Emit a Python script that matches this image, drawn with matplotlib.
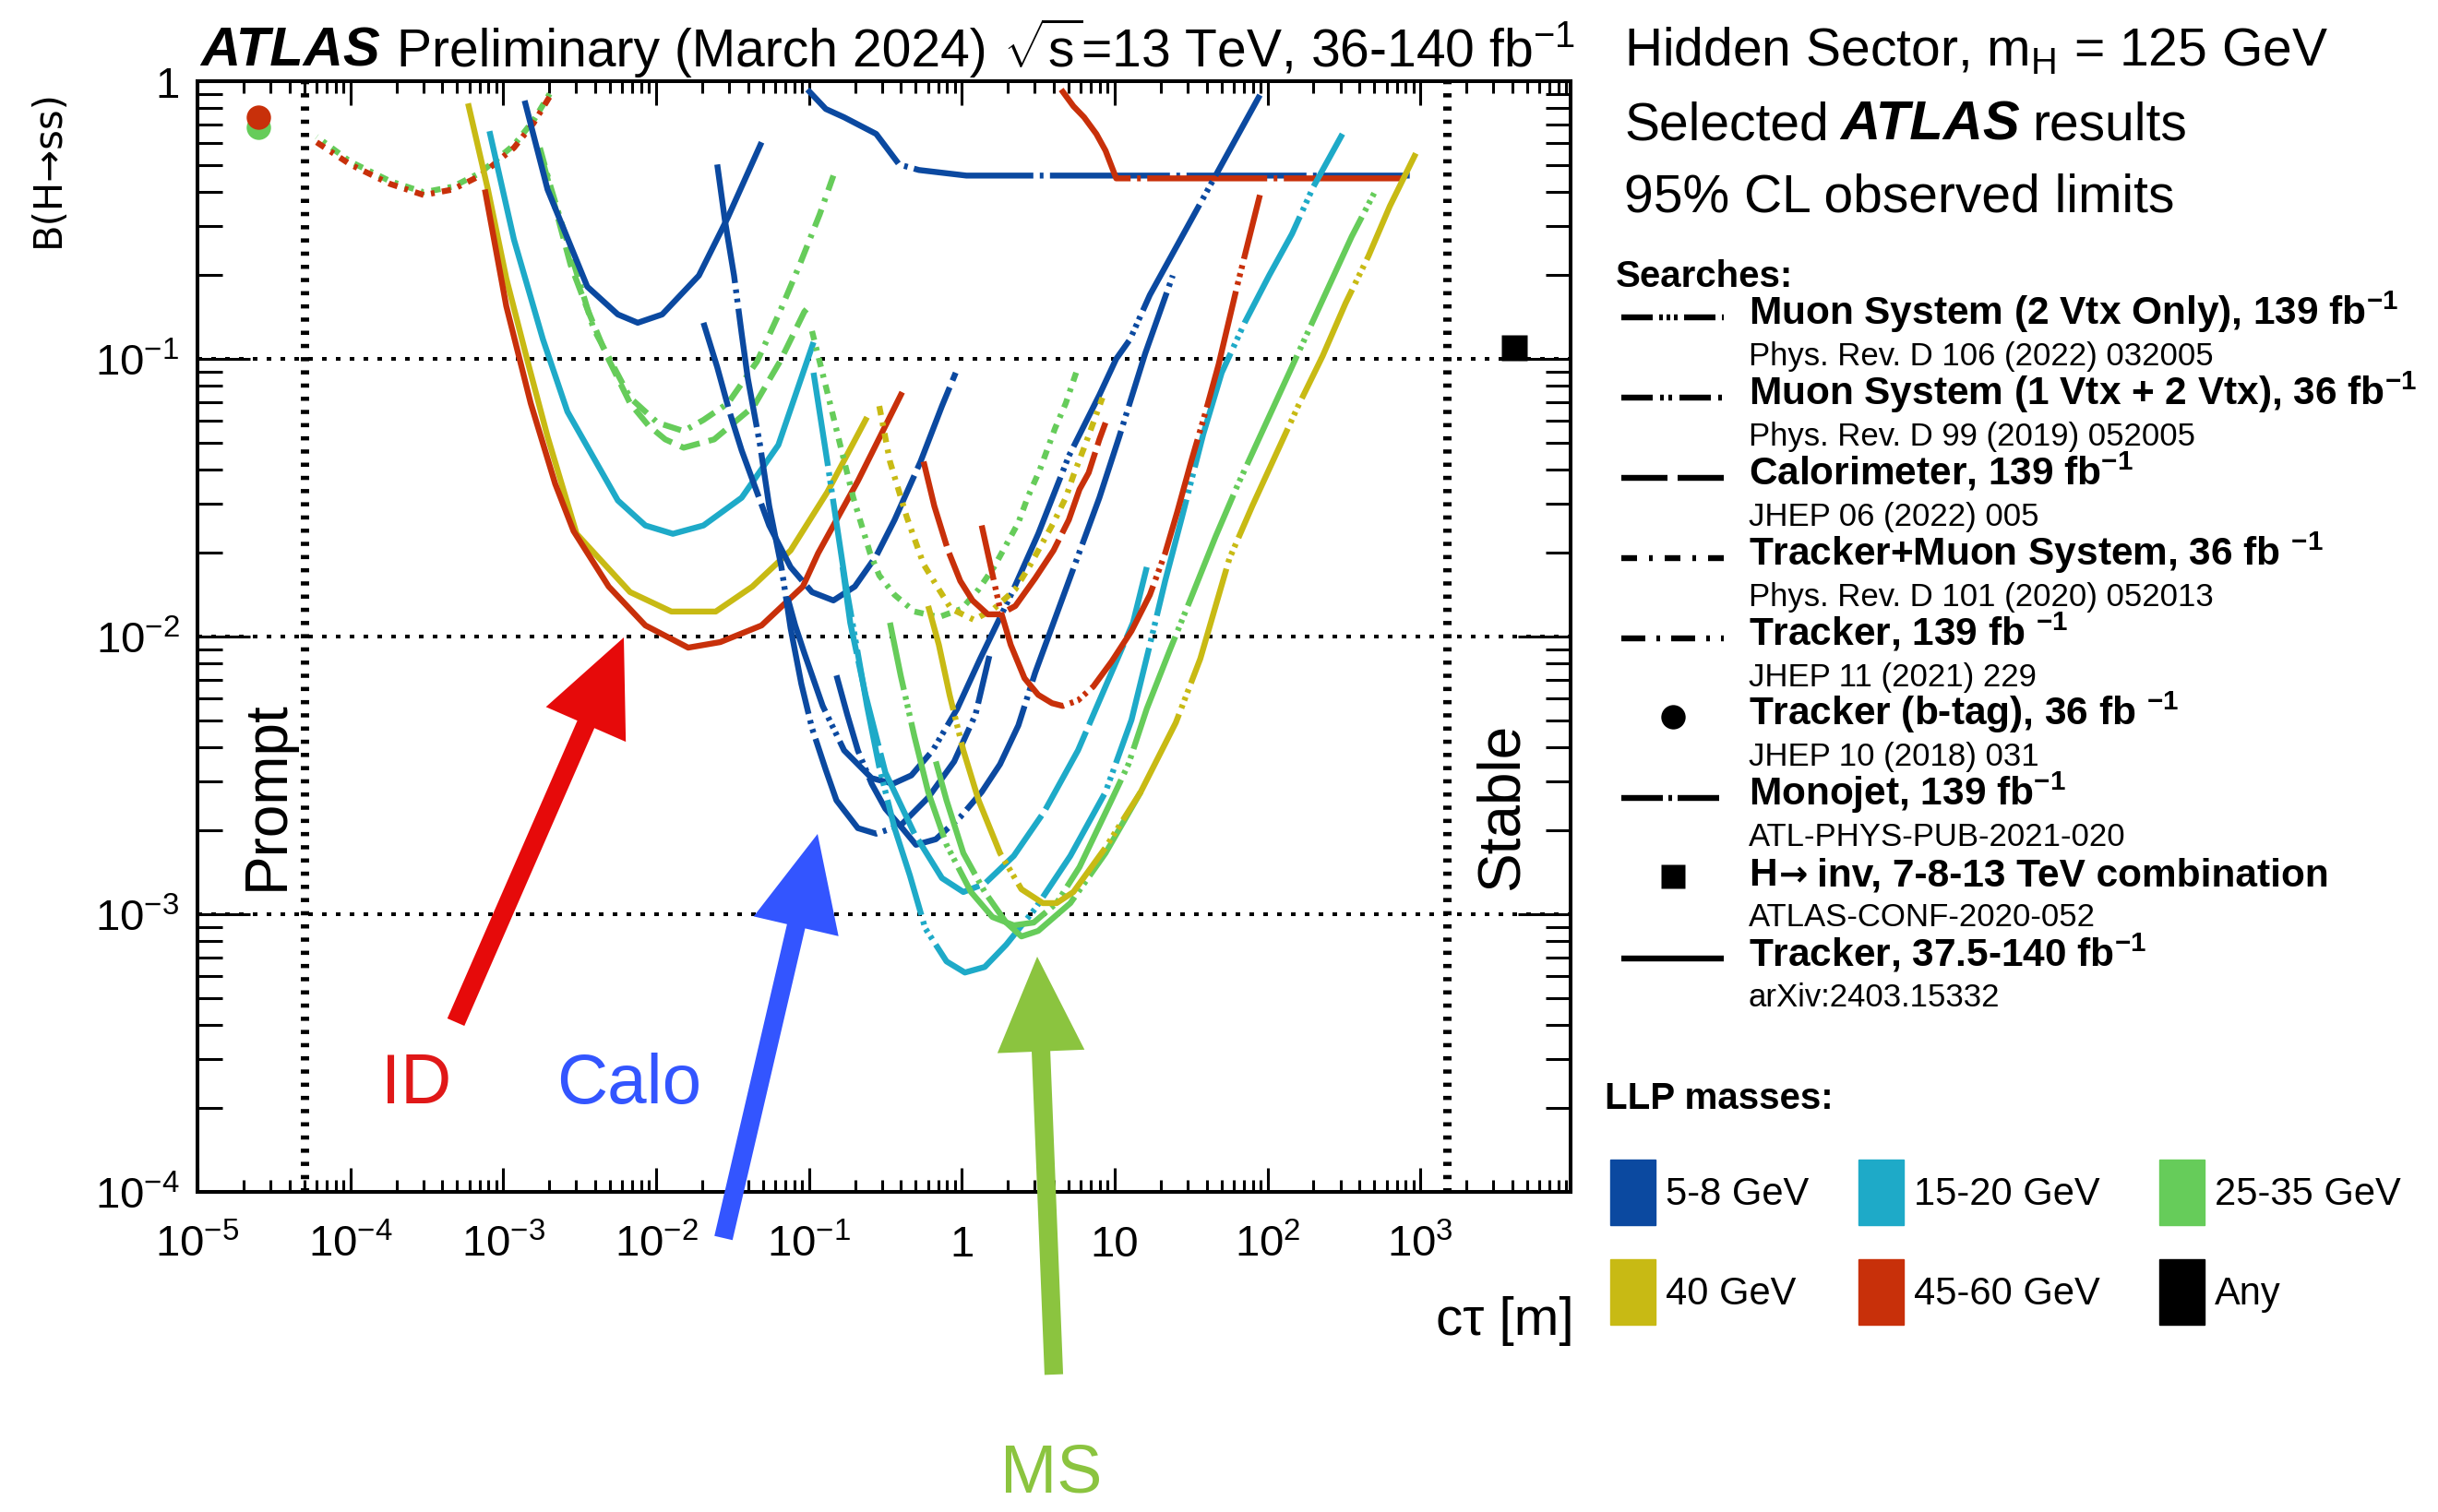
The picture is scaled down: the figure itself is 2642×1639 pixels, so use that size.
"""
ATLAS hidden-sector summary: B(H->ss) limits vs c*tau
"""
import numpy as np
import matplotlib
matplotlib.use("Agg")
import matplotlib.pyplot as plt
from matplotlib.patches import Rectangle
from matplotlib.ticker import FixedLocator, FixedFormatter, LogLocator, NullFormatter

plt.rcParams['font.family'] = ['Liberation Sans', 'DejaVu Sans']
plt.rcParams['mathtext.fontset'] = 'custom'
plt.rcParams['mathtext.rm'] = 'Liberation Sans'
plt.rcParams['mathtext.it'] = 'Liberation Sans:italic'
plt.rcParams['mathtext.bf'] = 'Liberation Sans:bold'
plt.rcParams['lines.scale_dashes'] = False

# ---------- colours ----------
C_58 = '#0B49A0'     # 5-8 GeV
C_1520 = '#1EAAC8'   # 15-20 GeV
C_2535 = '#66CC5A'   # 25-35 GeV
C_40 = '#C8BA14'     # 40 GeV
C_4560 = '#C8300A'   # 45-60 GeV

# ---------- data (log10 ctau[m], log10 B) ----------
# Tracker 37.5-140 fb-1 (solid)
trk_yellow_lx = [-3.23, -3.10, -2.98, -2.84, -2.71, -2.52, -2.17, -1.90, -1.74, -1.61, -1.37, -1.12, -0.88, -0.62]
trk_yellow_ly = [-0.08, -0.39, -0.71, -1.01, -1.28, -1.63, -1.84, -1.91, -1.91, -1.91, -1.82, -1.69, -1.48, -1.21]
trk_red_lx = [-3.12, -2.98, -2.82, -2.66, -2.54, -2.31, -2.07, -1.79, -1.58, -1.31, -1.04, -0.94, -0.68, -0.39]
trk_red_ly = [-0.39, -0.81, -1.16, -1.45, -1.62, -1.82, -1.96, -2.04, -2.02, -1.96, -1.82, -1.70, -1.44, -1.12]
trk_cyan_lx = [-3.09, -2.93, -2.74, -2.58, -2.25, -2.07, -1.89, -1.69, -1.44, -1.20, -0.97]
trk_cyan_ly = [-0.18, -0.57, -0.93, -1.19, -1.51, -1.60, -1.63, -1.60, -1.50, -1.31, -0.94]
trk_blue_lx = [-2.86, -2.71, -2.45, -2.25, -2.12, -1.96, -1.72, -1.53, -1.31]
trk_blue_ly = [-0.07, -0.39, -0.74, -0.84, -0.87, -0.84, -0.70, -0.49, -0.22]

# Tracker+Muon System 36 fb-1, short-lifetime part
trkms_prompt_lx = [-4.22, -4.00, -3.74, -3.52, -3.33, -3.15, -2.93, -2.80, -2.69]
trkms_prompt_red_ly = [-0.22, -0.30, -0.37, -0.41, -0.39, -0.34, -0.24, -0.15, -0.05]
trkms_prompt_green_ly = [-0.20, -0.29, -0.36, -0.40, -0.38, -0.33, -0.23, -0.14, -0.04]
# Tracker+Muon System 36 fb-1, long-lifetime part
trkms_green_lx = [-0.98, -0.88, -0.80, -0.71, -0.60, -0.54, -0.44, -0.31, -0.15, 0.00, 0.11, 0.21, 0.29, 0.37, 0.43, 0.51, 0.61, 0.68, 0.76]
trkms_green_ly = [-0.90, -1.12, -1.30, -1.50, -1.70, -1.78, -1.85, -1.91, -1.93, -1.90, -1.83, -1.75, -1.67, -1.59, -1.50, -1.40, -1.25, -1.16, -1.03]
trkms_yellow_lx = [-0.54, -0.47, -0.36, -0.25, -0.15, -0.07, 0.08, 0.21, 0.35, 0.45, 0.53, 0.60, 0.68, 0.73, 0.80, 0.86, 0.92]
trkms_yellow_ly = [-1.17, -1.37, -1.57, -1.74, -1.83, -1.90, -1.94, -1.90, -1.83, -1.74, -1.66, -1.59, -1.50, -1.42, -1.32, -1.23, -1.14]

# Tracker 139 fb-1
trk139_green_lx = [-2.76, -2.69, -2.41, -2.17, -1.99, -1.82, -1.69, -1.53, -1.34, -1.19, -1.06, -0.93, -0.84]
trk139_green_ly = [-0.24, -0.38, -0.89, -1.14, -1.23, -1.26, -1.22, -1.16, -1.01, -0.83, -0.66, -0.48, -0.34]

# Calorimeter 139 fb-1
calo_green_lx = [-2.74, -2.56, -2.45, -2.33, -2.17, -2.05, -1.94, -1.82, -1.62, -1.36, -1.19, -1.03, -0.98]
calo_green_ly = [-0.29, -0.66, -0.82, -0.98, -1.16, -1.24, -1.29, -1.32, -1.29, -1.17, -1.01, -0.83, -0.80]
calo_blue_lx = [-1.69, -1.60, -1.52, -1.44, -1.36, -1.26, -1.12, -0.98, -0.84, -0.70, -0.56, -0.44, -0.27, -0.13, -0.04]
calo_blue_ly = [-0.87, -1.03, -1.19, -1.33, -1.45, -1.60, -1.75, -1.84, -1.87, -1.82, -1.71, -1.58, -1.37, -1.17, -1.05]
calo_cyan_lx = [-0.78, -0.73, -0.63, -0.50, -0.31, -0.13, 0.01, 0.15, 0.34, 0.54, 0.76, 0.94, 1.12, 1.21]
calo_cyan_ly = [-1.75, -1.95, -2.21, -2.49, -2.71, -2.87, -2.92, -2.89, -2.79, -2.63, -2.41, -2.18, -1.95, -1.75]
calo_red_lx = [-0.25, -0.18, -0.09, -0.01, 0.07, 0.17, 0.25, 0.35, 0.48, 0.60, 0.70, 0.77, 0.83, 0.90, 0.94]
calo_red_ly = [-1.37, -1.53, -1.69, -1.80, -1.87, -1.92, -1.92, -1.89, -1.79, -1.69, -1.58, -1.47, -1.41, -1.29, -1.23]

# Muon System (1 Vtx + 2 Vtx) 36 fb-1
ms12_blue_a_lx = [-1.60, -1.55, -1.49, -1.44, -1.40, -1.32, -1.26, -1.18, -1.12, -1.05, -0.98, -0.89, -0.82, -0.68, -0.56, -0.40, -0.22, -0.05, 0.09, 0.18]
ms12_blue_a_ly = [-0.30, -0.50, -0.70, -0.91, -1.07, -1.31, -1.53, -1.75, -1.97, -2.17, -2.33, -2.48, -2.59, -2.69, -2.71, -2.68, -2.58, -2.45, -2.28, -2.07]
ms12_blue_b_lx = [-0.82, -0.75, -0.68, -0.59, -0.50, -0.39, -0.30, -0.17, -0.01, 0.13, 0.25, 0.37, 0.48, 0.68, 0.90, 1.03, 1.20, 1.38]
ms12_blue_b_ly = [-2.14, -2.28, -2.41, -2.53, -2.62, -2.69, -2.75, -2.73, -2.65, -2.56, -2.46, -2.32, -2.13, -1.83, -1.50, -1.28, -0.98, -0.70]
ms12_green_lx = [-0.17, -0.10, 0.01, 0.15, 0.29, 0.39, 0.50, 0.71, 0.94, 1.17]
ms12_green_ly = [-2.45, -2.59, -2.78, -2.92, -3.03, -3.08, -3.06, -2.96, -2.78, -2.56]

# Muon System (2 Vtx Only) 139 fb-1
ms2_blue_lx = [-1.14, -1.09, -1.03, -0.91, -0.77, -0.59, -0.45, -0.33, -0.19, -0.03, 0.12, 0.33, 0.50, 0.70, 0.90, 1.01, 1.10, 1.23, 1.38, 1.66, 1.95]
ms2_blue_ly = [-1.86, -1.96, -2.06, -2.25, -2.41, -2.51, -2.53, -2.50, -2.41, -2.26, -2.08, -1.84, -1.63, -1.35, -1.13, -1.00, -0.93, -0.77, -0.62, -0.34, -0.05]
ms2_cyan_lx = [-0.97, -0.88, -0.82, -0.76, -0.69, -0.62, -0.54, -0.44, -0.34, -0.24, -0.10, 0.02, 0.15, 0.29, 0.48, 0.71, 0.94, 1.11, 1.23, 1.33, 1.44, 1.58, 1.70, 1.85, 2.01, 2.16, 2.30, 2.49]
ms2_cyan_ly = [-1.05, -1.37, -1.59, -1.81, -2.03, -2.25, -2.47, -2.69, -2.86, -3.05, -3.17, -3.21, -3.19, -3.11, -2.98, -2.79, -2.56, -2.30, -2.03, -1.80, -1.57, -1.27, -1.05, -0.87, -0.70, -0.55, -0.38, -0.19]
ms2_green_lx = [-0.47, -0.40, -0.31, -0.22, -0.10, 0.06, 0.20, 0.34, 0.47, 0.62, 0.77, 0.97, 1.09, 1.21, 1.36, 1.50, 1.66, 1.80, 1.95, 2.10, 2.25, 2.40, 2.55, 2.71]
ms2_green_ly = [-1.95, -2.14, -2.36, -2.56, -2.75, -2.92, -3.01, -3.04, -3.03, -2.96, -2.83, -2.60, -2.46, -2.26, -2.05, -1.86, -1.64, -1.46, -1.28, -1.10, -0.92, -0.74, -0.56, -0.39]
ms2_yellow_lx = [-0.22, -0.15, -0.08, 0.01, 0.11, 0.25, 0.39, 0.53, 0.62, 0.73, 0.94, 1.17, 1.40, 1.56, 1.75, 1.90, 2.05, 2.20, 2.36, 2.51, 2.66, 2.80, 2.97]
ms2_yellow_ly = [-1.89, -2.03, -2.21, -2.41, -2.59, -2.78, -2.91, -2.96, -2.96, -2.92, -2.76, -2.56, -2.31, -2.08, -1.72, -1.53, -1.35, -1.17, -0.99, -0.80, -0.63, -0.45, -0.26]
ms2_red_lx = [0.13, 0.17, 0.21, 0.25, 0.32, 0.41, 0.50, 0.59, 0.66, 0.76, 0.86, 0.98, 1.11, 1.23, 1.33, 1.41, 1.50, 1.59, 1.68, 1.80, 1.95]
ms2_red_ly = [-1.60, -1.70, -1.80, -1.90, -2.03, -2.15, -2.21, -2.24, -2.25, -2.23, -2.18, -2.09, -1.98, -1.85, -1.70, -1.55, -1.37, -1.20, -1.02, -0.74, -0.41]

# Monojet 139 fb-1
mono_blue_lx = [-1.01, -0.89, -0.77, -0.56, -0.41, -0.28, 0.03, 2.93]
mono_blue_ly = [-0.03, -0.10, -0.13, -0.19, -0.30, -0.32, -0.34, -0.34]
mono_red_lx = [0.65, 0.73, 0.80, 0.88, 0.94, 1.01, 2.92]
mono_red_ly = [-0.03, -0.09, -0.13, -0.19, -0.25, -0.35, -0.35]

# Tracker (b-tag) 36 fb-1 and H->inv combination (points)
btag_ctau = [2.5e-5, 2.5e-5]
btag_br = [0.68, 0.74]
btag_colors = [C_2535, C_4560]
hinv_ctau = [4.1e3]
hinv_br = [0.11]

# axis decorations
x_tick_values = [1e-5, 1e-4, 1e-3, 1e-2, 1e-1, 1, 10, 1e2, 1e3]
x_tick_labels = ['$10^{-5}$', '$10^{-4}$', '$10^{-3}$', '$10^{-2}$', '$10^{-1}$', '1', '10', '$10^{2}$', '$10^{3}$']
y_tick_values = [1e-4, 1e-3, 1e-2, 1e-1, 1]
y_tick_labels = ['$10^{-4}$', '$10^{-3}$', '$10^{-2}$', '$10^{-1}$', '1']
grid_levels = [1e-1, 1e-2, 1e-3]
prompt_ctau = 5e-5
stable_ctau = 1.5e3

# legend content
search_names = [
    'Muon System (2 Vtx Only), 139 fb$^{\\mathbf{-1}}$',
    'Muon System (1 Vtx + 2 Vtx), 36 fb$^{\\mathbf{-1}}$',
    'Calorimeter, 139 fb$^{\\mathbf{-1}}$',
    'Tracker+Muon System, 36 fb $^{\\mathbf{-1}}$',
    'Tracker, 139 fb $^{\\mathbf{-1}}$',
    'Tracker (b-tag), 36 fb $^{\\mathbf{-1}}$',
    'Monojet, 139 fb$^{\\mathbf{-1}}$',
    ['H', '\u2192', 'inv, 7-8-13 TeV combination'],
    'Tracker, 37.5-140 fb$^{\\mathbf{-1}}$',
]
search_refs = [
    'Phys. Rev. D 106 (2022) 032005',
    'Phys. Rev. D 99 (2019) 052005',
    'JHEP 06 (2022) 005',
    'Phys. Rev. D 101 (2020) 052013',
    'JHEP 11 (2021) 229',
    'JHEP 10 (2018) 031',
    'ATL-PHYS-PUB-2021-020',
    'ATLAS-CONF-2020-052',
    'arXiv:2403.15332',
]
mass_labels = ['5-8 GeV', '15-20 GeV', '25-35 GeV', '40 GeV', '45-60 GeV', 'Any']
mass_colors = [C_58, C_1520, C_2535, C_40, C_4560, 'black']

# ---------- styles ----------
W, H = 2642, 1640
LW = 4.6


def pt(seq):
    # pixel pattern -> points (dpi 100)
    return [v * 0.72 for v in seq]


MS2 = pt([130, 7, 4, 5, 4, 5, 4, 7])
MS12 = pt([130, 7, 4, 6, 4, 7])
CALO = pt([95, 8])
TRKMS = pt([10, 8, 4, 8])
TRK139 = pt([20, 9, 4, 9])
MONO = pt([130, 7, 4, 7])

curves = [
    (trkms_prompt_lx, trkms_prompt_green_ly, C_2535, (7, TRKMS)),
    (trkms_prompt_lx, trkms_prompt_red_ly, C_4560, (0, TRKMS)),
    (trk139_green_lx, trk139_green_ly, C_2535, (0, TRK139)),
    (calo_green_lx, calo_green_ly, C_2535, (0, pt([22, 10]))),
    (trk_yellow_lx, trk_yellow_ly, C_40, '-'),
    (trk_red_lx, trk_red_ly, C_4560, '-'),
    (trk_cyan_lx, trk_cyan_ly, C_1520, '-'),
    (trk_blue_lx, trk_blue_ly, C_58, '-'),
    (mono_blue_lx, mono_blue_ly, C_58, (0, MONO)),
    (mono_red_lx, mono_red_ly, C_4560, (0, MONO)),
    (ms12_blue_a_lx, ms12_blue_a_ly, C_58, (0, MS12)),
    (calo_blue_lx, calo_blue_ly, C_58, (0, CALO)),
    (ms2_blue_lx, ms2_blue_ly, C_58, (0, MS2)),
    (ms12_blue_b_lx, ms12_blue_b_ly, C_58, (30, MS12)),
    (calo_cyan_lx, calo_cyan_ly, C_1520, (0, CALO)),
    (ms2_cyan_lx, ms2_cyan_ly, C_1520, (20, MS2)),
    (trkms_green_lx, trkms_green_ly, C_2535, (0, TRKMS)),
    (trkms_yellow_lx, trkms_yellow_ly, C_40, (0, TRKMS)),
    (ms12_green_lx, ms12_green_ly, C_2535, (0, MS12)),
    (ms2_green_lx, ms2_green_ly, C_2535, (40, MS2)),
    (ms2_yellow_lx, ms2_yellow_ly, C_40, (10, MS2)),
    (calo_red_lx, calo_red_ly, C_4560, (0, CALO)),
    (ms2_red_lx, ms2_red_ly, C_4560, (50, MS2)),
]

# ---------- figure ----------
fig = plt.figure(figsize=(W / 100, H / 100), dpi=100)
ax = fig.add_axes([214 / W, 1 - 1293 / H, (1702 - 214) / W, (1293 - 89) / H])
ax.set_xscale('log')
ax.set_yscale('log')
ax.set_xlim(1e-5, 9.6e3)
ax.set_ylim(1e-4, 1)

for lv in grid_levels:
    ax.axhline(lv, color='black', lw=2.9, linestyle=(0, pt([5, 10])), zorder=1)
for xv in (prompt_ctau, stable_ctau):
    ax.axvline(xv, color='black', lw=6.5, linestyle=(0, pt([4.5, 9.8])), zorder=1)

for lx, ly, col, ls in curves:
    ax.plot(np.power(10.0, lx), np.power(10.0, ly), color=col, lw=LW, linestyle=ls,
            solid_capstyle='butt', dash_capstyle='butt', zorder=3)

for xv, yv, col in zip(btag_ctau, btag_br, btag_colors):
    ax.plot([xv], [yv], 'o', ms=19, color=col, mec='none', zorder=4, clip_on=False)
ax.plot(hinv_ctau, hinv_br, 's', ms=20, color='black', mec='none', zorder=4)

ax.xaxis.set_major_locator(FixedLocator(x_tick_values))
ax.xaxis.set_major_formatter(FixedFormatter(x_tick_labels))
ax.xaxis.set_minor_locator(LogLocator(base=10, subs=np.arange(2, 10), numticks=30))
ax.xaxis.set_minor_formatter(NullFormatter())
ax.yaxis.set_major_locator(FixedLocator(y_tick_values))
ax.yaxis.set_major_formatter(FixedFormatter(y_tick_labels))
ax.yaxis.set_minor_locator(LogLocator(base=10, subs=np.arange(2, 10), numticks=30))
ax.yaxis.set_minor_formatter(NullFormatter())

ax.tick_params(axis='x', which='major', direction='in', length=19, width=2.2, top=True, labelsize=34, pad=50)
ax.tick_params(axis='x', which='minor', direction='in', length=9.5, width=2.2, top=True)
ax.tick_params(axis='y', which='major', direction='in', length=41, width=2.2, right=True, labelsize=34, pad=14)
ax.tick_params(axis='y', which='minor', direction='in', length=19.5, width=2.2, right=True)
for lbl in ax.xaxis.get_majorticklabels():
    lbl.set_verticalalignment('baseline')
for sp in ax.spines.values():
    sp.set_linewidth(2.9)

# ---------- overlay in figure pixels (y downwards) ----------
ov = fig.add_axes([0, 0, 1, 1], zorder=5)
ov.set_xlim(0, W)
ov.set_ylim(H, 0)
ov.axis('off')
renderer = fig.canvas.get_renderer()


def put_row(x, y, parts):
    for s, kw, gap in parts:
        t = ov.text(x, y, s, ha='left', va='baseline', **kw)
        x = t.get_window_extent(renderer).x1 + gap


BI = dict(fontweight='bold', fontstyle='italic')
put_row(217, 72, [('ATLAS', dict(fontsize=43, **BI), 18),
                  ('Preliminary (March 2024)', dict(fontsize=41), 18),
                  ('$\\sqrt{\\mathrm{s}}$=13 TeV, 36-140 fb$^{-1}$', dict(fontsize=41), 0)])

ov.text(1760, 71, 'Hidden Sector, m$_\\mathrm{H}$ = 125 GeV', fontsize=41, va='baseline')
put_row(1760, 152, [('Selected', dict(fontsize=41), 12),
                    ('ATLAS', dict(fontsize=43, **BI), 14),
                    ('results', dict(fontsize=41), 0)])
ov.text(1760, 230, '95% CL observed limits', fontsize=41, va='baseline')

ov.text(52, 97, 'B(H\u2192ss)', fontsize=30, family='DejaVu Sans', rotation=90, ha='center', va='top')
ov.text(1706, 1432, 'c\u03c4 [m]', fontsize=42, ha='right', va='center')
ov.text(290, 862, 'Prompt', fontsize=46, rotation=90, ha='center', va='center')
ov.text(1628, 874, 'Stable', fontsize=46, rotation=90, ha='center', va='center')

# region arrows
arrow_style = 'simple,head_length=7.4,head_width=6.8,tail_width=1.45'
for (tail, tip, col) in [((494, 1109), (676, 692), '#E60A0A'),
                         ((784, 1343), (886, 905), '#3355FF'),
                         ((1142, 1491), (1124, 1038), '#8BC43F')]:
    ov.annotate('', xy=tip, xytext=tail,
                arrowprops=dict(arrowstyle=arrow_style, color=col, lw=0,
                                shrinkA=0, shrinkB=0, mutation_scale=10))
ov.text(451, 1177, 'ID', fontsize=55, color='#E01818', ha='center', va='center')
ov.text(682, 1177, 'Calo', fontsize=55, color='#3355FF', ha='center', va='center')
ov.text(1139, 1598, 'MS', fontsize=53, color='#8BC43F', ha='center', va='center')

# searches legend
ov.text(1751, 311, 'Searches:', fontsize=29, fontweight='bold', va='baseline')
leg_styles = [pt([34, 7, 4, 4, 4, 4, 4, 7]), pt([34, 8, 4, 5, 4, 8]), pt([50, 11]),
              pt([17, 13, 4, 13]), pt([26, 12, 4, 12]), 'dot',
              pt([45, 6, 4, 6]), 'square', '-']
NAME = dict(fontsize=30.5, fontweight='bold')
for i, (name, ref, st) in enumerate(zip(search_names, search_refs, leg_styles)):
    yb = 352 + i * 86.9
    if isinstance(name, list):
        put_row(1895, yb, [(name[0], NAME, 2),
                           (name[1], dict(NAME, family='DejaVu Sans', fontsize=27), 10),
                           (name[2], NAME, 0)])
    else:
        ov.text(1895, yb, name, va='baseline', **NAME)
    ov.text(1895, yb + 44, ref, fontsize=25, va='baseline')
    if st == 'dot':
        ov.plot([1813], [yb - 9], 'o', ms=19, color='black', mec='none')
    elif st == 'square':
        ov.plot([1813], [yb - 9], 's', ms=19, color='black', mec='none')
    elif st == '-':
        ov.plot([1757, 1868], [yb - 7, yb - 7], color='black', lw=LW, solid_capstyle='butt')
    else:
        ov.plot([1757, 1868], [yb - 7, yb - 7], color='black', lw=LW, linestyle=(0, st),
                dash_capstyle='butt')

# LLP masses legend
ov.text(1739, 1202, 'LLP masses:', fontsize=29, fontweight='bold', va='baseline')
box_x = [1745, 2014, 2340]
box_y = [1258, 1366]
for k, (lab, col) in enumerate(zip(mass_labels, mass_colors)):
    bx = box_x[k % 3]
    by = box_y[k // 3]
    ov.add_patch(Rectangle((bx, by), 49, 71, color=col))
    ov.text(bx + 60, by + 37, lab, fontsize=30, va='center')

fig.savefig('out.png', dpi=100)
